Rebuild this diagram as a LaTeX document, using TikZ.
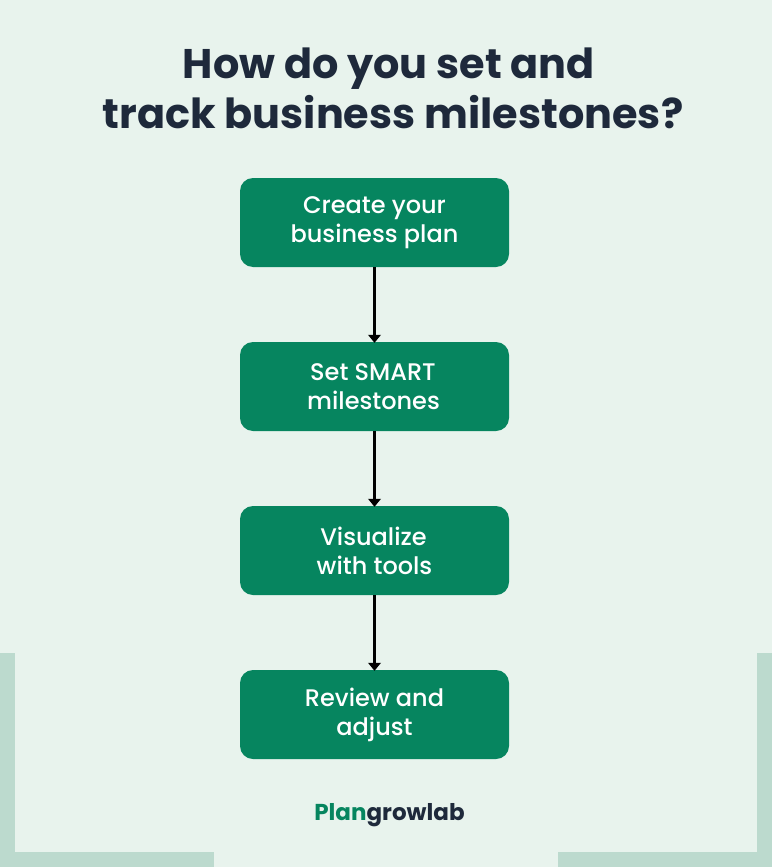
\documentclass[tikz,border=0pt]{standalone}
\usepackage{fontspec}
\setmainfont{Poppins}
\newfontfamily\stepfont{Poppins Medium}
\usetikzlibrary{positioning,arrows.meta}
\definecolor{bgmint}{HTML}{E8F3ED}
\definecolor{bandgreen}{HTML}{BCDACE}
\definecolor{boxgreen}{HTML}{06855F}
\definecolor{titleink}{HTML}{1E293B}
\tikzset{
  stepbox/.style = {draw=none, fill=boxgreen, rounded corners=13pt, minimum width=269pt, minimum height=89pt, inner sep=0pt, text=white, align=center, font=\stepfont\fontsize{24}{29}\selectfont},
  link/.style = {draw=black, line width=2.6pt, -{Triangle[length=8pt,width=12.5pt]}, shorten >=-1pt}
}
\begin{document}
\begin{tikzpicture}[x=1pt, y=-1pt]
      \useasboundingbox (0, 0) rectangle (772, 867);
      \fill[bgmint] (0, 0) rectangle (772, 867);
      \fill[bandgreen] (0, 653) rectangle (15, 867);
      \fill[bandgreen] (757, 653) rectangle (772, 867);
      \fill[bandgreen] (0, 852) rectangle (214, 867);
      \fill[bandgreen] (558, 852) rectangle (772, 867);
      \node[font=\fontsize{41.4}{50}\selectfont\bfseries, text=titleink, align=center] (title) at (393, 88) {\mbox{How do you set and\hspace{8pt}}\\track business milestones?};
      \node[stepbox] (plan) at (374.5, 222.5) {\raisebox{-0.5pt}{Create your}\\\raisebox{-0.5pt}{business plan}};
      \node[stepbox] (smart) at (374.5, 386.5) {\raisebox{-1.5pt}{Set SMART\hspace{3pt}}\\\raisebox{-1.5pt}{milestones\hspace{2pt}}};
      \node[stepbox] (tools) at (374.5, 550.5) {\raisebox{-0.5pt}{Visualize\hspace{2pt}}\\\raisebox{-0.5pt}{with tools}};
      \node[stepbox] (review) at (374.5, 714.5) {\raisebox{-0.5pt}{Review and}\\\raisebox{-0.5pt}{adjust}};
      \draw[link] (plan) -- (smart);
      \draw[link] (smart) -- (tools);
      \draw[link] (tools) -- (review);
      \node[font=\fontsize{23}{28}\selectfont\bfseries, text=titleink] (brand) at (389.5, 815) {\textcolor{boxgreen}{Plan}growlab};
    \end{tikzpicture}
\end{document}
